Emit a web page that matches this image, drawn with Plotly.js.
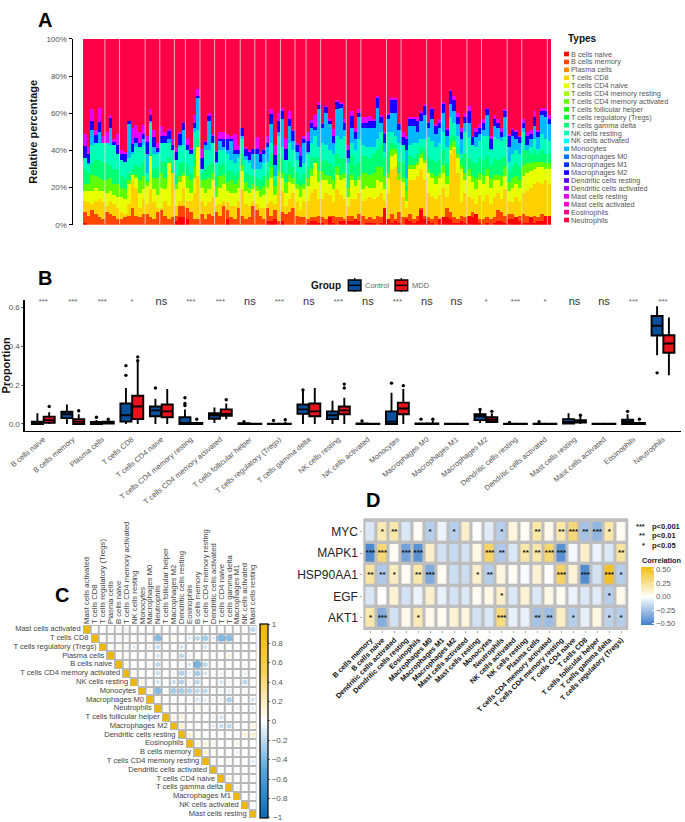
<!DOCTYPE html>
<html><head><meta charset="utf-8">
<script src="https://cdn.plot.ly/plotly-3.0.1.min.js"></script>
<style>html,body{margin:0;padding:0;background:#fff}#g{width:685px;height:822px}</style>
</head><body><div id="g"></div>
<script>
const W=685,H=822,FONT='Liberation Sans, Arial, sans-serif';
/* ---------- Panel A: stacked composition, read as band tops in % per sample ---------- */
const typeNames=['B cells naive','B cells memory','Plasma cells','T cells CD8','T cells CD4 naive','T cells CD4 memory resting','T cells CD4 memory activated','T cells follicular helper','T cells regulatory (Tregs)','T cells gamma delta','NK cells resting','NK cells activated','Monocytes','Macrophages M0','Macrophages M1','Macrophages M2','Dendritic cells resting','Dendritic cells activated','Mast cells resting','Mast cells activated','Eosinophils','Neutrophils'];
const typeColors=['#FF0000','#FF4600','#FF8B00','#FFD100','#E8FF00','#A2FF00','#5DFF00','#17FF00','#00FF2E','#00FF74','#00FFB9','#00FFFF','#00B9FF','#0074FF','#002EFF','#1700FF','#5D00FF','#A200FF','#E800FF','#FF00D1','#FF008B','#FF0046'];
const redTop=[1,0,0,0,0,0,0,0,0,0,0,0,0,0,0,0,0,0,0,0,0,0,0,0,0,2,4,4,3,0,0,0,0,0,0,0,0,0,0,3,0,0,0,0,0,0,0,0,0,0,2,2,3,0,2,0,0,0,0,0,0,1,2,2,1,1,0,4,1,0,2,2,2,2,3,2,0,1,1,1,0,1,9,3,1,2,1,0,3,2,1,2,8,3,2,1,0,3,4,4,3,1,1,2,1,5,4,6,1,0,1,0,1,2,2,1,3,3,4,2,1,1,4,1,2,2,5,5];
const orangeTop=[7,5,8,6,4,3,7,6,5,3,3,4,5,9,5,4,6,6,4,3,7,8,5,3,4,5,10,10,9,7,3,3,6,3,6,5,7,5,10,8,4,3,9,5,3,4,10,8,5,3,9,5,8,2,7,6,7,9,5,4,4,3,4,4,5,4,3,5,5,4,4,3,5,5,3,6,5,3,4,3,5,4,9,3,6,3,7,4,4,6,3,5,9,5,4,3,5,3,3,9,7,4,3,5,4,5,7,4,3,3,4,3,4,8,7,5,6,6,4,5,6,5,3,5,4,6,4,3];
const amberTop=[13,12,11,13,14,12,10,13,11,9,7,6,11,24,20,9,14,11,19,12,9,9,13,10,28,10,13,20,13,13,17,26,13,10,12,15,10,11,13,12,10,10,13,19,11,10,13,11,9,9,11,13,11,26,18,10,14,17,12,8,13,13,17,19,14,14,17,16,12,19,16,14,10,14,14,17,13,14,15,14,15,17,13,17,30,31,24,15,9,24,24,26,30,24,17,15,14,16,20,15,38,41,28,12,17,15,14,11,16,13,16,11,15,17,14,19,13,12,15,13,17,18,20,22,23,22,24,22];
const yellowTop=[18,18,18,20,18,18,17,18,16,15,15,14,22,27,25,17,19,21,37,19,16,20,19,33,15,19,23,26,20,17,25,42,20,17,19,24,15,20,22,18,17,17,20,29,18,17,19,18,15,16,20,25,16,26,25,17,23,22,19,15,19,21,26,33,23,24,24,22,19,27,24,25,15,24,21,24,19,21,20,20,24,23,19,25,37,38,23,23,13,30,30,32,36,33,28,25,22,25,28,22,40,42,36,30,24,26,23,19,24,22,26,20,24,24,21,26,18,20,22,20,26,28,29,30,31,31,30,30];
const limeTop=[22,22,27,26,25,24,24,25,22,22,20,19,24,25,27,24,26,23,35,25,25,28,25,30,23,22,26,28,26,24,31,40,24,24,25,28,21,26,27,23,24,22,24,32,23,20,22,21,19,21,24,31,21,29,28,23,27,25,22,21,22,25,30,33,29,29,27,26,24,31,27,28,20,27,24,26,28,28,27,28,31,31,26,28,41,41,28,25,18,32,32,34,38,35,30,28,26,28,32,26,43,45,38,32,28,30,26,25,28,27,30,25,27,27,26,31,23,25,26,24,32,33,33,34,34,34,33,33];
const springTop=[30,28,33,35,35,34,33,32,30,30,26,25,28,30,32,31,34,24,42,30,31,34,34,36,30,27,33,34,32,28,40,46,28,30,32,33,26,32,33,29,29,27,29,38,28,27,26,25,24,26,29,38,24,38,36,28,34,31,28,24,28,31,37,36,36,34,35,33,31,38,36,36,27,37,32,34,37,37,36,38,40,43,36,39,44,43,34,33,21,37,36,38,42,40,36,35,34,35,40,33,47,48,42,36,38,36,34,33,36,35,37,32,36,35,36,37,29,31,33,31,40,40,38,40,38,40,38,38];
const tealTop=[36,32,43,44,44,44,44,43,43,38,35,34,36,38,42,42,43,28,55,38,38,44,44,44,40,35,42,43,40,38,50,51,30,40,40,44,33,40,40,38,35,33,36,46,35,33,30,30,30,33,34,44,26,48,42,35,44,40,35,31,33,38,44,48,42,44,43,40,38,48,46,48,33,44,40,46,43,42,42,42,46,50,39,50,50,48,44,43,25,43,44,44,46,46,47,45,42,44,50,42,58,55,48,38,50,47,43,42,45,48,48,40,47,46,45,47,34,38,40,38,50,40,42,46,41,49,46,45];
const skyTop=[36,33,51,44,50,43,44,52,43,38,35,34,54,39,44,42,46,38,56,42,39,44,44,46,40,35,43,51,40,38,52,68,30,43,56,44,34,45,42,40,45,38,38,48,37,35,38,38,34,38,42,54,32,50,57,35,53,45,39,31,44,39,52,51,62,52,60,54,44,62,63,51,36,52,46,58,52,52,52,52,63,55,44,57,60,60,51,43,40,53,53,50,56,59,52,57,49,52,60,48,65,61,54,46,55,55,43,47,49,51,59,41,53,52,47,58,42,48,46,44,52,43,46,53,47,59,58,54];
const blueTop=[42.5,38,56,48.5,55.5,44,44,57.5,44.5,43,38,38,56,43.5,46.5,44,49,44.5,59,47,41.5,48,47.5,50.5,43,39,49,54.5,43,40,55,69.5,36,44.5,58.5,48,39,46,46,46,46,40,40,52,41,39,40.5,40.5,38,40,44,59.5,37.5,56,61,40.5,57,50.5,43,37,46,45,54.5,52.5,64.5,54,63.5,56,48,66,65,55,40,58.5,50,60,55,55,56,56,68,58,49,59,67,67,54,47,46,57,57,56,60,64,55,62,53,55,65,51,72,67,58,50,58,61,47,50,52,55,62,46,57,55,50,61,48,51,50,47,55,48,49,58,50,61,61,57];
const magentaTop=[49,42,62,51,63,47.5,50,59,46,49,40,39,56,52,53.5,50,53.5,48,62.5,51,44,53,50,51.5,46,41.5,50,55,46,41.5,59,73,41,45,60,49,39.5,50,50,49,48,49,43,52,42,40,41,47,39,40.5,47.5,62.5,43,60,63,46,61,51,44,42,48,50,56.5,59,66,54.5,64,57,51.5,67,66,57,43,61,52,62,58,58,58.5,57,69,59,50,60,68,68,55,50,48,58,58,58,61,65,56,63,54,57,66,52,73,69,60,52,60,64,48,52,54,57,63,48,59,57,52,62,49,52,51,48,57,50,51,61,51,63,63,59];
const seamSamples=[6,10,17,21,25,28,32,36,39,43,47,50,54,58,61,65,72,76,83,87,94,98,105,109,116,120,127];
const bandTops=[['B cells naive',redTop],['B cells memory',orangeTop],['T cells CD8',amberTop],['T cells CD4 naive',yellowTop],['T cells CD4 memory activated',limeTop],['T cells gamma delta',springTop],['NK cells resting',tealTop],['Monocytes',skyTop],['Macrophages M2',blueTop],['Mast cells resting',magentaTop]];

/* ---------- Panel B: box statistics ---------- */
const cellTypes=typeNames;
const sigLabels=['***','***','***','*','ns','***','***','ns','***','ns','***','ns','***','ns','ns','*','***','*','ns','ns','***','***'];
const ctlQ1=[0,.03,0,.012,.04,0,.027,0,0,.052,.025,0,0,0,0,.02,0,0,.002,0,0,.455];
const ctlMed=[.003,.05,.003,.045,.07,.005,.045,0,0,.075,.045,.001,.012,0,0,.04,0,0,.01,0,.01,.505];
const ctlQ3=[.012,.063,.01,.105,.09,.035,.055,.004,.002,.1,.065,.003,.065,.003,.001,.05,.002,.002,.025,.002,.022,.555];
const ctlLow=[0,0,0,0,0,0,.005,0,0,0,0,0,0,0,0,.005,0,0,0,0,0,.354];
const ctlHigh=[.055,.1,.02,.185,.13,.075,.085,.01,.005,.17,.12,.005,.16,.008,.002,.07,.003,.003,.055,.004,.05,.605];
const mddQ1=[.006,0,.002,.025,.035,0,.042,0,0,.04,.05,0,.05,0,0,.01,0,0,.008,0,0,.366];
const mddMed=[.02,.012,.007,.09,.065,.001,.052,0,0,.065,.07,0,.08,0,0,.022,0,0,.015,0,.001,.414];
const mddQ3=[.038,.025,.012,.145,.1,.005,.075,.001,.002,.105,.09,.002,.11,.003,.001,.035,.001,.001,.02,.002,.005,.456];
const mddLow=[0,0,0,0,0,0,.025,0,0,0,0,0,0,0,0,.005,0,0,0,0,0,.251];
const mddHigh=[.06,.05,.02,.32,.18,.012,.105,.003,.012,.185,.135,.004,.18,.018,.002,.055,.003,.002,.04,.004,.012,.547];
const ctlOutCat=[2,3,3,4,5,5,5,7,8,9,11,12,13,15,16,17,20,21];
const ctlOutVal=[.035,.25,.3,.185,.095,.105,.135,.012,.018,.175,.015,.21,.025,.075,.008,.012,.065,.263];
const mddOutCat=[0,1,2,3,3,5,6,8,10,10,12,13,15,18,20];
const mddOutVal=[.09,.068,.024,.325,.345,.025,.125,.022,.185,.205,.197,.025,.065,.045,.025];

/* ---------- Panel C: correlation matrix (upper triangle, row by row after the diagonal) ---------- */
const corrNames=['Mast cells activated','T cells CD8','T cells regulatory (Tregs)','Plasma cells','B cells naive','T cells CD4 memory activated','NK cells resting','Monocytes','Macrophages M0','Neutrophils','T cells follicular helper','Macrophages M2','Dendritic cells resting','Eosinophils','B cells memory','T cells CD4 memory resting','Dendritic cells activated','T cells CD4 naive','T cells gamma delta','Macrophages M1','NK cells activated','Mast cells resting'];
const corrRows=[
[.01,.01,-.1,-.1,-.12,0,0,-.03,0,0,0,0,0,0,0,-.03,0,0,0,0,-.3],
[.05,-.08,.1,.1,0,.1,0,-.55,0,.12,0,-.15,-.3,-.4,-.15,-.6,-.55,.08,0,.01],
[.03,.12,-.1,-.15,.03,-.12,-.25,0,0,-.2,0,.03,-.2,0,-.03,0,-.05,-.03,0],
[.08,.08,0,0,-.05,-.2,-.08,-.08,-.3,-.1,0,0,0,.05,.2,0,0,0],
[.15,0,.03,-.08,-.3,0,0,-.05,-.2,-.65,-.3,.03,.03,0,0,-.08,.02],
[.12,.1,0,-.25,-.05,-.1,-.35,-.15,-.4,-.2,0,-.12,-.05,0,-.12,.03],
[.15,0,-.2,-.08,-.25,-.35,-.12,-.3,-.05,0,-.2,-.12,0,-.3,.03],
[.2,-.55,-.08,-.4,-.4,-.35,-.3,-.3,-.05,-.1,-.15,-.05,-.12,-.05],
[0,-.05,-.08,-.05,-.08,-.2,-.15,-.1,-.12,-.35,-.03,0,-.2],
[.08,.1,.08,0,.15,.1,.02,0,0,-.1,0,-.15],
[.2,.2,0,-.02,-.05,-.12,-.2,0,0,0,0],
[.25,.05,.08,0,-.15,-.25,-.3,.1,0,.2],
[.25,.12,.08,-.05,0,0,.08,.2,.25],
[.2,.2,.15,0,0,.15,.03,0],
[.25,.12,0,.05,-.1,.05,0],
[.03,0,.1,0,0,-.15],
[.03,.03,0,0,-.05],
[.2,0,.1,.03],
[-.12,.03,.03],
[.03,.1],
[.1]];

/* ---------- Panel D: gene vs cell correlations ---------- */
const geneNames=['MYC','MAPK1','HSP90AA1','EGF','AKT1'];
const dCells=['B cells memory','B cells naive','Dendritic cells activated','Dendritic cells resting','Eosinophils','Macrophages M0','Macrophages M1','Macrophages M2','Mast cells activated','Mast cells resting','Monocytes','Neutrophils','NK cells activated','NK cells resting','Plasma cells','T cells CD4 memory activated','T cells CD4 memory resting','T cells CD4 naive','T cells CD8','T cells follicular helper','T cells gamma delta','T cells regulatory (Tregs)'];
const corrMYC=[-.1,.18,.2,-.1,.02,-.2,-.05,-.2,.12,0,-.08,-.2,.08,.02,.2,.05,.2,.32,-.25,-.3,.2,.03];
const corrMAPK1=[-.48,.32,.03,-.38,-.45,.12,-.12,-.15,-.12,.06,.36,-.22,-.1,.2,.2,.33,-.45,-.03,.12,-.05,-.1,.22];
const corrHSP=[.22,-.22,.15,.02,.2,-.35,.03,-.14,-.14,.12,-.2,.08,.02,-.02,.1,0,.36,.1,-.47,-.12,.5,-.2];
const corrEGF=[-.1,0,.1,-.12,-.05,.12,-.06,-.12,-.1,.03,.06,.12,-.1,.1,-.1,.06,.03,-.05,-.1,-.08,-.2,.05];
const corrAKT1=[.2,-.33,-.12,.05,.17,.05,.03,.1,.08,-.12,-.1,.3,-.06,-.06,-.25,-.27,.14,-.2,-.06,.07,-.18,-.2];
const sigMYC=['','*','**','','','*','','*','','','','*','','','**','','**','***','**','***','*',''];
const sigMAPK1=['***','***','','***','***','','','','','','***','**','','**','**','***','***','','','','','**'];
const sigHSP=['**','**','*','','**','***','','','','*','**','','','','','','***','','***','','***','*'];
const sigEGF=['','','','','','','','','','','','*','','','','','','','','','*',''];
const sigAKT1=['*','***','','','*','','','','','','','***','','','**','**','','*','','','*','*'];

/* helpers */
const px=x=>x/W, py=y=>1-y/H;
const dom=(a,b)=>[a/W,b/W], domY=(top,bot)=>[1-bot/H,1-top/H];
const shapes=[],annotations=[],traces=[];
function label(x,y,text,o={}){annotations.push({xref:'paper',yref:'paper',x:px(x),y:py(y),text,showarrow:false,borderpad:0,xanchor:o.anchor||'left',yanchor:'middle',textangle:o.angle||0,font:{family:FONT,size:o.size||8,color:o.color||'#555',weight:o.weight||400}});}
function rect(x0,y0,x1,y1,fill,line,lw,layer){shapes.push({type:'rect',xref:'paper',yref:'paper',x0:px(x0),x1:px(x1),y0:py(y0),y1:py(y1),fillcolor:fill,line:{color:line||fill,width:lw||0},layer:layer||'above'});}
function seg(x0,y0,x1,y1,c,w){shapes.push({type:'line',xref:'paper',yref:'paper',x0:px(x0),x1:px(x1),y0:py(y0),y1:py(y1),line:{color:c,width:w}});}

/* A traces */
const samples=redTop.map((_,i)=>i);
let prev=samples.map(()=>0);
bandTops.forEach(([name,top])=>{
  const running=top.map((v,i)=>Math.max(v,prev[i]));
  traces.push({type:'bar',x:samples,y:running.map((v,i)=>v-prev[i]),name,marker:{color:typeColors[typeNames.indexOf(name)],line:{width:0}},xaxis:'x',yaxis:'y',hoverinfo:'name+y'});
  prev=running;
});
traces.push({type:'bar',x:samples,y:prev.map(v=>100-v),name:'Neutrophils',marker:{color:typeColors[21],line:{width:0}},xaxis:'x',yaxis:'y',hoverinfo:'name+y'});
seamSamples.forEach(s=>shapes.push({type:'line',xref:'x',yref:'y',x0:s-.5,x1:s-.5,y0:0,y1:100,line:{color:'rgba(225,225,225,0.75)',width:1}}));
label(567,38,'Types',{size:10,weight:700,color:'#111'});
typeNames.forEach((n,i)=>{const y=54+i*7.905;rect(564,y-2.3,569,y+2.3,typeColors[i]);label(570,y,n,{size:7.3,color:'#555'});});

/* B traces */
const catIdx=cellTypes.map((_,i)=>i);
const boxShift=.2,boxWidth=.375;
function boxes(name,sh,color,q1,med,q3,lo,hi){traces.push({type:'box',name,x:catIdx.map(i=>i+sh),q1,median:med,q3,lowerfence:lo,upperfence:hi,width:boxWidth,boxpoints:false,fillcolor:color,line:{color:'#000',width:1.9},whiskerwidth:0,xaxis:'x2',yaxis:'y2',showlegend:false});}
boxes('Control',-boxShift,'#0A4F9C',ctlQ1,ctlMed,ctlQ3,ctlLow,ctlHigh);
boxes('MDD',boxShift,'#E9131B',mddQ1,mddMed,mddQ3,mddLow,mddHigh);
traces.push({type:'scatter',mode:'markers',x:ctlOutCat.map(c=>c-boxShift),y:ctlOutVal,marker:{color:'#000',size:3.4},xaxis:'x2',yaxis:'y2',name:'Control outliers'});
traces.push({type:'scatter',mode:'markers',x:mddOutCat.map(c=>c+boxShift),y:mddOutVal,marker:{color:'#000',size:3.4},xaxis:'x2',yaxis:'y2',name:'MDD outliers'});
traces.push({type:'scatter',mode:'text',x:catIdx,y:catIdx.map(()=>.627),text:sigLabels,textposition:'middle center',textfont:{family:FONT,size:sigLabels.map(s=>s==='ns'?11:8),color:sigLabels.map(s=>s==='ns'?'#333':'#666')},cliponaxis:false,xaxis:'x2',yaxis:'y2',hoverinfo:'skip'});
label(310,285,'Group',{size:10,weight:700,color:'#111'});
[[348.3,361,'#0A4F9C','Control',364],[395,407.7,'#E9131B','MDD',410.7]].forEach(([a,b,c,t,tx])=>{
  seg((a+b)/2,278,(a+b)/2,292,'#000',1.3);
  rect(a,280,b,290.7,c,'#000',1.4);
  seg(a,285.3,b,285.3,'#000',1.3);
  label(tx,285,t,{size:7.5,color:'#666'});
});

/* C traces */
const full=corrNames.map((_,r)=>corrNames.map((_,c)=>c<r?null:(c===r?1:corrRows[r][c-r-1])));
const idx=corrNames.map((_,i)=>i);
traces.push({type:'heatmap',x:idx,y:idx,z:full.map(r=>r.map(v=>v===null?null:1)),colorscale:[[0,'#B8B8B8'],[1,'#B8B8B8']],showscale:false,xaxis:'x3',yaxis:'y3',hoverinfo:'skip'});
const corrScale=[[0,'#0A6AB6'],[.25,'#5AA6DC'],[.5,'#FFFFFF'],[.75,'#F7D25A'],[1,'#EFB700']];
traces.push({type:'heatmap',x:idx,y:idx,z:full.map((r,i)=>r.map((v,j)=>v===null?null:(i===j?1:0))),zmin:-1,zmax:1,colorscale:corrScale,xgap:2,ygap:2,xaxis:'x3',yaxis:'y3',hoverinfo:'skip',
  colorbar:{x:px(259.7),xanchor:'left',xpad:0,y:py(720.8),yanchor:'middle',ypad:0,len:193.7,lenmode:'pixels',thickness:8,thicknessmode:'pixels',outlinewidth:1.2,outlinecolor:'#000',tickvals:[-.8,-.6,-.4,-.2,0,.2,.4,.6,.8,.997],ticktext:['−0.8','−0.6','−0.4','−0.2','0','0.2','0.4','0.6','0.8','1'],ticks:'outside',ticklen:2,tickwidth:.8,tickcolor:'#444',tickfont:{family:FONT,size:8,color:'#555'}}});
seg(267.7,817.2,270,817.2,'#444',.8);
label(271.5,817,'−1',{size:8,color:'#555'});
const cx=[],cy=[],cr=[];
full.forEach((r,i)=>r.forEach((v,j)=>{if(j>i&&v){cx.push(j);cy.push(i);cr.push(v);}}));
traces.push({type:'scatter',mode:'markers',x:cx,y:cy,marker:{color:cr,cmin:-1,cmax:1,colorscale:corrScale,size:cr.map(v=>9.2*Math.sqrt(Math.abs(v))),line:{width:0},showscale:false},xaxis:'x3',yaxis:'y3',hovertemplate:'%{marker.color}<extra></extra>'});
traces.push({type:'scatter',mode:'text',x:idx.map(i=>i-.5),y:idx,text:corrNames.map(n=>n+'\u00A0'),textposition:'middle left',textfont:{family:FONT,size:7.5,color:'#444'},cliponaxis:false,xaxis:'x3',yaxis:'y3',hoverinfo:'skip'});

/* D traces */
const dZ=[corrMYC,corrMAPK1,corrHSP,corrEGF,corrAKT1], dSig=[sigMYC,sigMAPK1,sigHSP,sigEGF,sigAKT1];
const dIdx=dCells.map((_,i)=>i);
const dMin=-.52,dMax=.55;
traces.push({type:'heatmap',x:dIdx,y:geneNames.map((_,i)=>i),z:dZ,zmin:dMin,zmax:dMax,xgap:3.2,ygap:3.3,colorscale:[[0,'#3F80CC'],[-dMin/(dMax-dMin),'#FFFFFF'],[1,'#F2BC14']],xaxis:'x4',yaxis:'y4',hoverinfo:'z',
  colorbar:{x:px(640.7),xanchor:'left',xpad:0,y:py(595.9),yanchor:'middle',ypad:0,len:58.3,lenmode:'pixels',thickness:12.6,thicknessmode:'pixels',outlinewidth:0,tickvals:[-.5,-.25,0,.25,.5],ticktext:['−0.50','−0.25','0.00','0.25','0.50'],ticks:'inside',ticklen:2,tickcolor:'#fff',tickfont:{family:FONT,size:7.6,color:'#555'}}});
const sx=[],sy=[],st=[];
dSig.forEach((r,i)=>r.forEach((s,j)=>{if(s){sx.push(j);sy.push(i);st.push(s);}}));
traces.push({type:'scatter',mode:'text',x:sx,y:sy,text:st,textposition:'middle center',textfont:{family:FONT,size:8,color:'#111',weight:700},xaxis:'x4',yaxis:'y4',hoverinfo:'skip'});
rect(363.3,518.3,628.3,630,'#BEBEBE',null,0,'below');
[['***','p<0.001',526.7],['**','p<0.01',535.7],['*','p<0.05',545]].forEach(([a,b,y])=>{label(646,y,a,{anchor:'right',size:7.5,color:'#222',weight:700});label(651,y,b,{size:7.5,color:'#222',weight:700});});
label(640.7,560,'Correlation',{size:7.3,weight:700,color:'#222'});

/* panel letters */
[['A',37,20],['B',37,277.5],['C',54,595],['D',365,500]].forEach(([t,x,y])=>label(x,y,t,{size:20,weight:700,color:'#000'}));

const tickF={family:FONT,size:8,color:'#555'};
const layout={width:W,height:H,margin:{l:0,r:0,t:0,b:0,pad:0},autosize:false,showlegend:false,paper_bgcolor:'#fff',plot_bgcolor:'rgba(0,0,0,0)',font:{family:FONT},barmode:'stack',bargap:0,boxmode:'overlay',shapes,annotations,
 xaxis:{domain:dom(73,551),range:[-3.235,127.5],visible:false,fixedrange:true},
 yaxis:{domain:domY(38.8,224.8),range:[0,100],anchor:'x',tickvals:[0,20,40,60,80,100],ticktext:['0%','20%','40%','60%','80%','100%'],ticks:'outside',ticklen:3,tickwidth:1,tickcolor:'#000',showline:true,linecolor:'#000',linewidth:1.5,showgrid:false,zeroline:false,tickfont:tickF,title:{text:'Relative percentage',font:{family:FONT,size:11,weight:700,color:'#111'},standoff:6}},
 xaxis2:{domain:dom(25,680.7),range:[-.62,21.6],anchor:'y2',tickvals:catIdx,ticktext:cellTypes,tickangle:-40,ticks:'',showline:true,linecolor:'#000',linewidth:1.6,showgrid:false,zeroline:false,tickfont:{family:FONT,size:7.5,color:'#555'}},
 yaxis2:{domain:domY(300,430.7),range:[-.0345,.6375],anchor:'x2',tickvals:[0,.2,.4,.6],ticktext:['0.0','0.2','0.4','0.6'],ticks:'outside',ticklen:2,tickwidth:.8,showline:true,linecolor:'#000',linewidth:1.6,showgrid:false,zeroline:false,tickfont:tickF,title:{text:'Proportion',font:{family:FONT,size:11,weight:700,color:'#111'},standoff:0}},
 xaxis3:{domain:dom(82.7,256.7),range:[-.5,21.5],anchor:'y3',side:'top',tickvals:idx,ticktext:corrNames,tickangle:-90,ticks:'',showgrid:false,zeroline:false,tickfont:{family:FONT,size:7.7,color:'#444'}},
 yaxis3:{domain:domY(625,818.3),range:[21.5,-.5],anchor:'x3',visible:false},
 xaxis4:{domain:dom(363.3,628.3),range:[-.6,21.6],anchor:'y4',tickvals:dIdx,ticktext:dCells,tickangle:-45,ticks:'outside',ticklen:2,tickwidth:.7,tickcolor:'#888',showgrid:false,zeroline:false,tickfont:{family:FONT,size:7.2,color:'#111',weight:700}},
 yaxis4:{domain:domY(518.3,630),range:[4.56,-.62],anchor:'x4',tickvals:geneNames.map((_,i)=>i),ticktext:geneNames,ticks:'outside',ticklen:2,tickwidth:.7,tickcolor:'#888',showgrid:false,zeroline:false,tickfont:{family:FONT,size:12,color:'#222'}}
};
Plotly.newPlot('g',traces,layout,{staticPlot:true,displayModeBar:false});
</script></body></html>
